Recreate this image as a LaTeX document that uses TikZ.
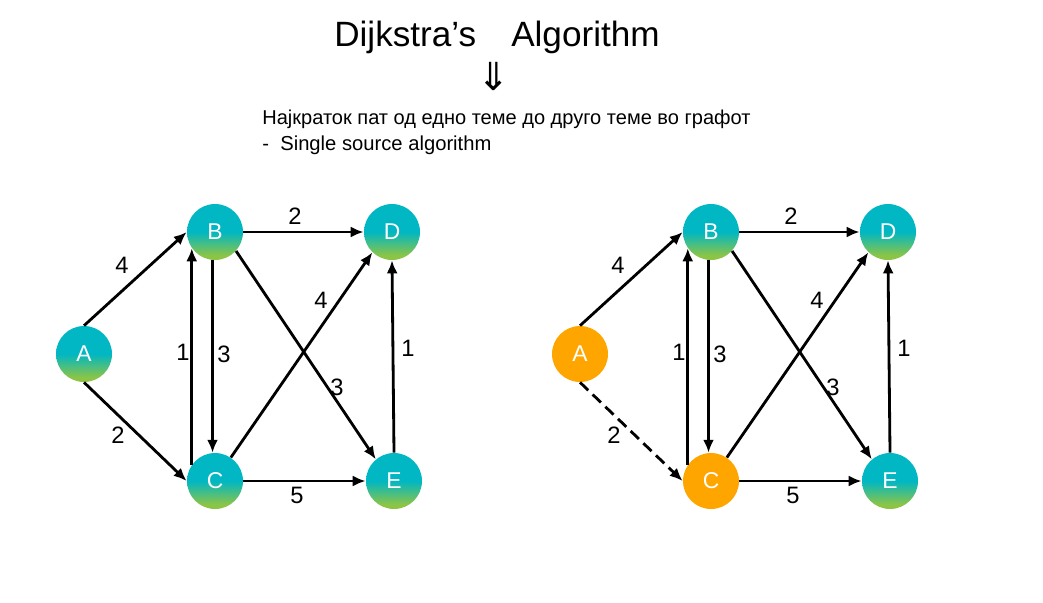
\documentclass[tikz,border=0pt]{standalone}
\usepackage{fontspec}
\setmainfont{Liberation Sans}
\newfontfamily\symfont{DejaVu Sans}
\definecolor{nodeteal}{RGB}{0,183,195}
\definecolor{nodegreen}{RGB}{140,197,70}
\definecolor{nodeorange}{RGB}{255,165,0}
\usetikzlibrary{arrows.meta}
\pgfdeclareverticalshading{tealgreen}{100bp}{color(0bp)=(nodegreen); color(29bp)=(nodegreen); color(50bp)=(nodeteal); color(100bp)=(nodeteal)}

\begin{document}
\begin{tikzpicture}[x=0.02cm,y=-0.02cm,
    vtx/.style={circle,minimum size=1.12cm,inner sep=0pt,text=white,font=\fontsize{13}{13}\selectfont},
    tnode/.style={vtx,shading=tealgreen},
    onode/.style={vtx,fill=nodeorange},
    arr/.style={-{Latex[length=2.6mm,width=2.2mm]},line width=1.6pt},
    dashes/.style={dash pattern=on 6.5pt off 3.5pt},
    wgt/.style={font=\fontsize{13.5}{14}\selectfont,inner sep=1pt}]
  \useasboundingbox (0,0) rectangle (1043,602);
  % heading
  \node (title) at (497,37) {\fontsize{20}{22}\selectfont Dijkstra's\quad Algorithm};
  \node (down) at (494,76) {\symfont\fontsize{22}{22}\selectfont ⇓};
  \node[anchor=base west,inner sep=0pt,font=\fontsize{11.4}{13}\selectfont] (mk) at (262,124) {Најкраток пат од едно теме до друго теме во графот};
  \node[anchor=base west,inner sep=0pt,font=\fontsize{11.5}{13}\selectfont] (src) at (262,150) {-\ \ Single source algorithm};
  % the graph, twice
  \foreach \g/\dx/\sel/\ac in {l/0/tnode/solid,r/496/onode/dashes}{
    \begin{scope}[shift={(\dx,0)}]
      \node[\sel] (\g A) at (84,354) {A};
      \node[tnode] (\g B) at (215,232) {B};
      \node[tnode] (\g D) at (392,232) {D};
      \node[\sel] (\g C) at (215,481) {C};
      \node[tnode] (\g E) at (394,481) {E};
      \draw[arr] (\g A.90) -- (\g B.180);
      \draw[arr,\ac] (\g A.270) -- (\g C.180);
      \draw[arr] (\g B.0) -- (\g D.180);
      \draw[arr] (\g C.0) -- (\g E.180);
      \draw[arr] (\g B.265) -- (\g C.95);
      \draw[arr] (\g C.145) -- (\g B.215);
      \draw[arr] (\g B.-42) -- (\g E.130);
      \draw[arr] (\g C.56) -- (\g D.226);
      \draw[arr] (\g E.90) -- (\g D.270);
      \node[wgt] (\g wab) at (122,265) {4};
      \node[wgt] (\g wac) at (118,435) {2};
      \node[wgt] (\g wbd) at (295,216) {2};
      \node[wgt] (\g wce) at (297,495) {5};
      \node[wgt] (\g wcb) at (183,352) {1};
      \node[wgt] (\g wbc) at (224,354) {3};
      \node[wgt] (\g wcd) at (321,300) {4};
      \node[wgt] (\g wbe) at (337,387) {3};
      \node[wgt] (\g wed) at (408,348) {1};
    \end{scope}}
\end{tikzpicture}
\end{document}
